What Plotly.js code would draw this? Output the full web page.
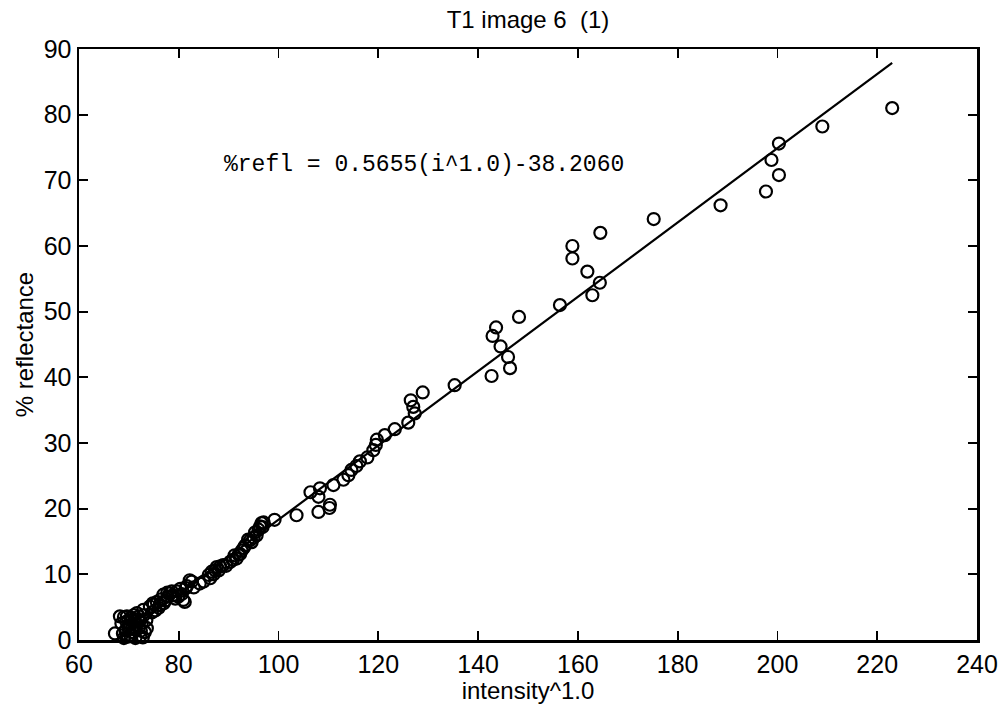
<!DOCTYPE html>
<html>
<head>
<meta charset="utf-8">
<script src="https://cdn.plot.ly/plotly-3.0.1.min.js"></script>
<style>html,body{margin:0;padding:0;background:#fff;}#chart{width:1000px;height:711px;}</style>
</head>
<body>
<div id="chart"></div>
<script>
// Measured data points (intensity^1.0, % reflectance)
var intensity = [67.2, 68.2, 68.5, 69.0, 69.3, 69.6, 69.8, 70.0, 70.4, 70.8, 71.0, 71.3, 71.6, 71.8, 72.0, 72.3, 72.6, 72.9, 73.2, 73.5,
  68.8, 69.5, 70.2, 70.6, 71.2, 71.5, 72.0, 72.4, 72.8, 73.0, 73.6, 70.0, 69.0, 71.0, 72.2,
  74.2, 74.6, 75.0, 75.6, 76.0, 76.4, 76.9, 77.3, 77.7, 78.2, 78.6, 79.3, 79.9, 80.3, 80.9, 81.2, 81.6, 82.2, 82.6, 84.2,
  74.8, 75.3, 76.2, 77.0, 77.8, 78.8, 79.6, 80.6, 81.4, 83.0, 85.0, 86.0, 87.0, 88.0, 89.5, 90.8, 91.2, 92.3, 93.0, 94.6, 95.0, 95.3, 96.8, 97.0,
  86.3, 86.6, 87.3, 87.6, 88.3, 88.9, 90.3, 91.6, 92.0, 92.6, 93.3, 93.9, 94.3, 95.6, 96.0, 96.3, 96.6, 99.2, 103.6, 106.4,
  108.0, 108.0, 108.3, 110.2, 110.3, 111.0, 113.0, 114.0, 114.6, 115.6, 116.3, 117.8, 119.0, 119.5, 119.7, 121.3, 123.3, 126.0, 127.3, 127.0,
  126.5, 128.9, 135.3, 142.7, 146.4, 146.0, 144.5, 142.9, 143.6, 148.2, 156.4, 162.9, 164.4, 161.9, 158.9, 158.9, 164.5, 175.2, 188.6, 197.7,
  200.3, 198.8, 200.3, 209.0, 223.0];
var reflectance = [1.0, 3.6, 2.5, 3.5, 1.5, 3.6, 0.5, 2.2, 3.4, 1.2, 2.8, 0.3, 4.1, 3.2, 1.8, 0.6, 2.6, 4.6, 1.2, 3.0,
  1.0, 2.8, 0.8, 3.0, 1.6, 2.4, 3.6, 1.4, 0.4, 3.8, 1.8, 1.6, 0.3, 3.8, 2.9,
  5.1, 4.2, 5.4, 5.8, 4.9, 6.2, 6.9, 6.0, 7.2, 7.1, 7.4, 6.3, 6.6, 7.8, 6.1, 5.8, 8.2, 9.1, 8.9, 8.6,
  5.6, 4.5, 5.3, 5.6, 6.6, 6.8, 7.4, 7.0, 7.9, 8.0, 8.9, 9.9, 10.0, 10.6, 11.3, 12.2, 12.9, 13.1, 14.0, 14.9, 15.6, 16.4, 17.2, 17.9,
  9.4, 10.4, 10.6, 11.1, 11.2, 11.4, 11.9, 12.4, 13.0, 13.6, 14.4, 15.3, 15.2, 15.9, 16.8, 17.3, 17.8, 18.3, 19.0, 22.5,
  19.5, 21.8, 23.1, 20.1, 20.6, 23.6, 24.4, 25.1, 25.9, 26.5, 27.2, 27.8, 28.9, 29.7, 30.5, 31.2, 32.1, 33.1, 34.5, 35.5,
  36.5, 37.7, 38.8, 40.2, 41.4, 43.1, 44.7, 46.3, 47.6, 49.2, 51.0, 52.5, 54.4, 56.1, 58.1, 60.0, 62.0, 64.1, 66.2, 68.3,
  70.8, 73.1, 75.6, 78.2, 81.0];

// Fit line end points
var fitX = [67.6, 223.0];
var fitY = [0.0, 87.9];

var equationText = "%refl = 0.5655(i^1.0)-38.2060";
var equationPos = [88.7, 72.3];

var xTicks = [60, 80, 100, 120, 140, 160, 180, 200, 220, 240];
var yTicks = [0, 10, 20, 30, 40, 50, 60, 70, 80, 90];

var sans = "Liberation Sans, Arial, Helvetica, sans-serif";
var tickFont = {family: sans, size: 25, color: "#000"};
var titleFont = {family: sans, size: 24, color: "#000"};

var traces = [
  {
    x: intensity, y: reflectance, type: "scatter", mode: "markers",
    marker: {symbol: "circle-open", size: 12, color: "#000", line: {width: 2.2, color: "#000"}},
    showlegend: false, cliponaxis: false
  },
  {
    x: fitX, y: fitY, type: "scatter", mode: "lines",
    line: {color: "#000", width: 2.2}, showlegend: false
  }
];

var axisCommon = {
  showgrid: false, zeroline: false, showline: true, linecolor: "#000", linewidth: 2.5,
  mirror: "ticks", ticks: "inside", ticklen: 9, tickwidth: 1.8, tickcolor: "#000",
  tickfont: tickFont
};

var layout = {
  width: 1000, height: 711,
  margin: {l: 79, r: 23, t: 49, b: 71},
  paper_bgcolor: "#fff", plot_bgcolor: "#fff",
  title: {text: "T1 image 6  (1)", font: titleFont, x: 0.528, xanchor: "center", y: 0.972, yanchor: "middle"},
  xaxis: Object.assign({}, axisCommon, {
    range: [60, 240], tickvals: xTicks, ticktext: xTicks.map(String),
    title: {text: "intensity^1.0", font: titleFont, standoff: 2}
  }),
  yaxis: Object.assign({}, axisCommon, {
    range: [0, 90], tickvals: yTicks, ticktext: yTicks.map(String),
    title: {text: "% reflectance", font: titleFont, standoff: 4}
  }),
  annotations: [{
    x: equationPos[0], y: equationPos[1], xref: "x", yref: "y",
    text: equationText, showarrow: false, xanchor: "left", yanchor: "middle",
    font: {family: "Liberation Mono, DejaVu Sans Mono, monospace", size: 23, color: "#000"}
  }]
};

Plotly.newPlot("chart", traces, layout, {displayModeBar: false, staticPlot: true});
</script>
</body>
</html>
